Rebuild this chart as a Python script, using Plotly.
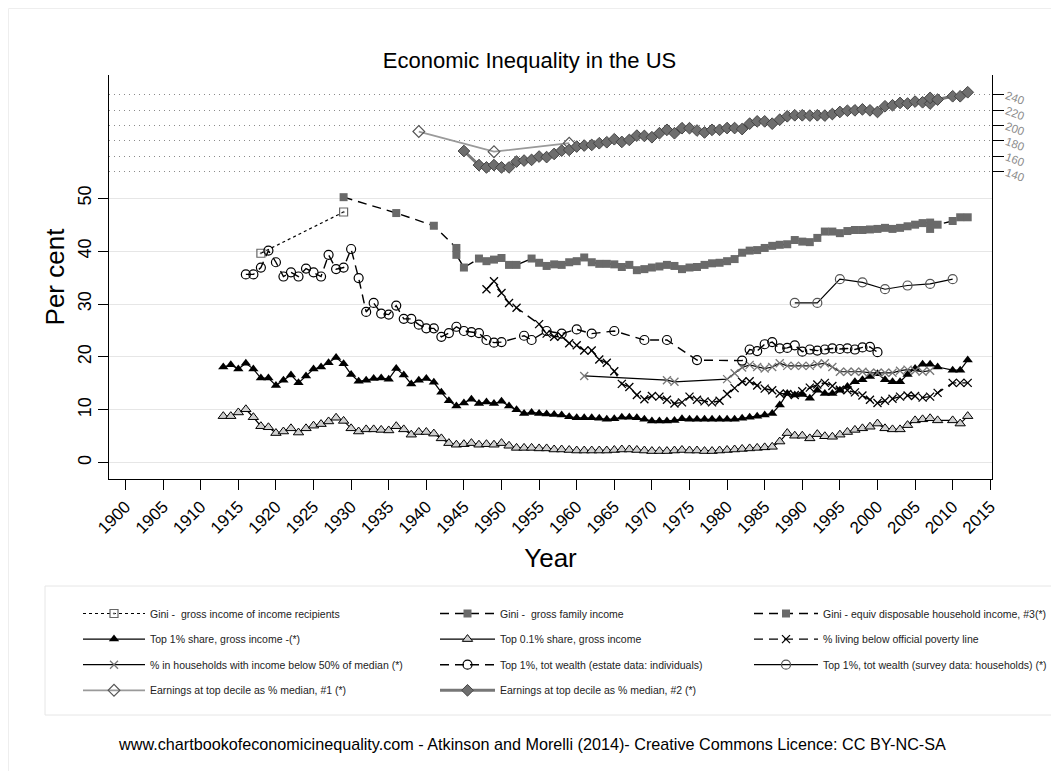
import plotly.graph_objects as go

# ---------------- data ----------------
yr_gini_recip = [1918, 1929]
gini_recip = [39.6, 47.4]

yr_gini_family = [1929, 1936, 1941, 1944, 1944, 1945, 1947, 1948, 1949, 1950, 1951, 1952,
                  1954, 1955, 1956, 1957, 1958, 1959, 1960, 1961, 1962, 1963, 1964, 1965,
                  1966, 1967, 1968, 1969, 1970, 1971, 1972, 1973, 1974, 1975, 1976, 1977,
                  1978, 1979, 1980, 1981, 1982, 1983, 1984, 1985, 1986, 1987, 1988, 1989,
                  1990, 1991, 1992, 1993, 1994, 1995, 1996, 1997, 1998, 1999, 2000, 2001,
                  2002, 2003, 2004, 2005, 2006, 2007]
gini_family = [50.2, 47.2, 44.8, 40.6, 39.3, 36.9, 38.6, 38.1, 38.4, 38.7, 37.4, 37.4,
               38.6, 37.8, 37.2, 37.5, 37.4, 37.9, 38.1, 38.8, 37.9, 37.6, 37.6, 37.5,
               37.0, 37.4, 36.4, 36.6, 36.9, 37.1, 37.4, 37.2, 36.6, 36.9, 37.0, 37.4,
               37.7, 37.8, 38.1, 38.5, 39.7, 40.1, 40.2, 40.6, 41.0, 41.2, 41.3, 42.1,
               41.8, 41.7, 42.5, 43.7, 43.7, 43.4, 43.8, 44.0, 44.0, 44.1, 44.2, 44.4,
               44.2, 44.4, 44.7, 45.0, 45.3, 45.4]

yr_gini_equiv = [2007, 2008, 2010, 2011, 2012]
gini_equiv = [44.2, 45.0, 45.7, 46.4, 46.4]

yr_top1 = list(range(1913, 2009)) + [2010, 2011, 2012]
top1 = [18.1, 18.5, 17.7, 18.8, 17.7, 16.0, 16.0, 14.6, 15.6, 16.6, 15.1, 16.4, 17.7,
        18.1, 18.9, 19.9, 18.7, 16.7, 15.4, 15.6, 15.9, 16.0, 15.8, 17.8, 16.6, 14.9,
        15.6, 15.9, 15.2, 13.3, 11.7, 10.7, 11.3, 12.0, 11.2, 11.5, 11.2, 11.6, 10.7,
        10.0, 9.3, 9.5, 9.3, 9.2, 9.1, 9.0, 8.7, 8.5, 8.5, 8.5, 8.4, 8.2, 8.3, 8.6,
        8.6, 8.5, 8.2, 7.9, 7.9, 7.9, 8.0, 8.3, 8.2, 8.2, 8.2, 8.2, 8.2, 8.2, 8.2,
        8.4, 8.6, 8.8, 9.0, 9.3, 10.9, 13.1, 12.8, 12.9, 12.2, 13.7, 13.1, 13.1, 13.7,
        14.4, 15.3, 15.7, 16.3, 16.8, 15.7, 15.3, 15.3, 16.7, 17.8, 18.6, 18.6, 18.1,
        17.5, 17.5, 19.4]

yr_top01 = list(range(1913, 2009)) + [2010, 2011, 2012]
top01 = [8.8, 8.8, 9.5, 10.1, 8.6, 6.9, 6.7, 5.6, 5.9, 6.5, 5.7, 6.5, 7.0, 7.3, 7.8,
         8.5, 7.9, 6.5, 5.9, 6.3, 6.3, 6.2, 6.1, 6.9, 6.3, 5.3, 5.8, 5.8, 5.5, 4.6,
         3.7, 3.4, 3.5, 3.7, 3.4, 3.5, 3.4, 3.7, 3.2, 2.8, 2.8, 2.8, 2.7, 2.7, 2.5,
         2.5, 2.4, 2.3, 2.3, 2.3, 2.3, 2.3, 2.4, 2.5, 2.5, 2.4, 2.3, 2.2, 2.2, 2.2,
         2.3, 2.4, 2.3, 2.3, 2.2, 2.2, 2.3, 2.4, 2.5, 2.6, 2.7, 2.8, 2.9, 3.0, 4.0,
         5.6, 5.1, 5.1, 4.6, 5.4, 5.0, 4.9, 5.3, 5.8, 6.2, 6.5, 6.8, 7.4, 6.5, 6.3,
         6.3, 7.1, 8.0, 8.2, 8.4, 8.0, 8.0, 7.4, 8.8]

yr_poverty = [1948, 1949, 1950, 1951, 1952, 1955, 1956, 1957, 1958, 1959, 1960, 1961,
              1962, 1963, 1964, 1965, 1966, 1967, 1968, 1969, 1970, 1971, 1972, 1973,
              1974, 1975, 1976, 1977, 1978, 1979, 1980, 1981, 1982, 1983, 1984, 1985,
              1986, 1987, 1988, 1989, 1990, 1991, 1992, 1993, 1994, 1995, 1996, 1997,
              1998, 1999, 2000, 2001, 2002, 2003, 2004, 2005, 2006, 2007, 2008, 2010,
              2011, 2012]
poverty = [32.8, 34.3, 32.1, 30.2, 29.3, 26.2, 24.4, 23.8, 23.9, 22.6, 22.2, 21.2,
           21.2, 19.5, 18.9, 17.3, 14.9, 14.3, 12.8, 12.0, 12.6, 12.5, 11.9, 11.2,
           11.4, 12.5, 11.9, 11.6, 11.4, 11.7, 13.0, 14.1, 15.3, 15.4, 14.6, 14.0,
           13.7, 13.1, 13.0, 12.8, 13.5, 14.2, 14.8, 15.1, 14.5, 13.8, 13.7, 13.3,
           12.7, 11.9, 11.3, 11.7, 12.1, 12.5, 12.7, 12.6, 12.3, 12.5, 13.2, 15.1,
           15.1, 15.1]

yr_below50 = [1961, 1972, 1973, 1980, 1981, 1982, 1983, 1984, 1985, 1986, 1987, 1988,
              1989, 1990, 1991, 1992, 1993, 1994, 1995, 1996, 1997, 1998, 1999, 2000,
              2001, 2002, 2003, 2004, 2005, 2006, 2007]
below50 = [16.4, 15.6, 15.3, 15.8, 16.9, 18.0, 18.5, 18.1, 17.8, 18.1, 18.8, 18.3,
           18.3, 18.3, 18.3, 18.6, 18.8, 18.1, 17.2, 17.2, 17.2, 17.2, 17.0, 17.0,
           17.0, 17.0, 17.4, 17.6, 17.4, 17.2, 17.4]

yr_wealth_estate = [1916, 1917, 1918, 1919, 1920, 1921, 1922, 1923, 1924, 1925, 1926,
                    1927, 1928, 1929, 1930, 1931, 1932, 1933, 1934, 1935, 1936, 1937,
                    1938, 1939, 1940, 1941, 1942, 1943, 1944, 1945, 1946, 1947, 1948,
                    1949, 1950, 1953, 1954, 1956, 1958, 1960, 1962, 1965, 1969, 1972,
                    1976, 1982, 1983, 1984, 1985, 1986, 1987, 1988, 1989, 1990, 1991,
                    1992, 1993, 1994, 1995, 1996, 1997, 1998, 1999, 2000]
wealth_estate = [35.6, 35.6, 36.9, 40.1, 37.9, 35.2, 36.0, 35.2, 36.7, 36.0, 35.2,
                 39.3, 36.6, 36.9, 40.4, 34.9, 28.5, 30.2, 28.2, 28.0, 29.7, 27.2,
                 27.2, 26.1, 25.4, 25.4, 23.8, 24.5, 25.7, 24.9, 24.7, 24.5, 23.2,
                 22.7, 22.8, 24.0, 23.2, 24.9, 24.4, 25.2, 24.4, 24.9, 23.2, 23.2,
                 19.4, 19.3, 21.4, 21.1, 22.4, 22.8, 21.6, 21.7, 22.2, 21.0, 21.4,
                 21.2, 21.4, 21.6, 21.5, 21.6, 21.4, 21.8, 21.9, 20.9]

yr_wealth_survey = [1989, 1992, 1995, 1998, 2001, 2004, 2007, 2010]
wealth_survey = [30.2, 30.2, 34.7, 34.1, 32.8, 33.5, 33.8, 34.7]

yr_earn1 = [1939, 1949, 1959]
earn1 = [192.2, 166.0, 177.0]

yr_earn2 = [1945] + list(range(1947, 2008)) + [2007, 2008, 2010, 2011, 2012]
earn2 = [166.9, 148.6, 145.6, 148.6, 145.6, 145.6, 153.2, 154.5, 155.4, 159.7, 159.0,
         163.1, 167.4, 168.3, 172.7, 174.0, 174.8, 177.0, 178.3, 182.2, 178.7, 181.3,
         186.9, 186.5, 184.8, 190.0, 194.4, 190.0, 196.5, 196.5, 193.5, 191.0, 194.4,
         194.4, 196.7, 196.7, 195.4, 202.4, 205.4, 205.4, 202.4, 207.6, 212.0, 213.3,
         213.3, 212.9, 213.3, 212.9, 214.9, 217.6, 219.2, 219.7, 221.0, 219.7, 217.6,
         225.0, 226.3, 229.3, 228.5, 231.1, 230.2, 228.5, 235.9, 233.7, 238.0, 238.0,
         243.2]

xticks = list(range(1900, 2016, 5))
yticks_left = [0, 10, 20, 30, 40, 50]
yticks_right = [140, 160, 180, 200, 220, 240]

title = "Economic Inequality in the US"
footer = ("www.chartbookofeconomicinequality.com - Atkinson and Morelli (2014)- "
          "Creative Commons Licence: CC BY-NC-SA")

# ---------------- figure ----------------
FONT = "Arial, Liberation Sans, sans-serif"
DASH = "9px,6px"
fig = go.Figure()


def add(x, y, name, legend, line, marker, yaxis="y"):
    fig.add_trace(go.Scatter(x=x, y=y, name=name, mode="lines+markers",
                             line=line, marker=marker, legend=legend,
                             legendgroup=name, yaxis=yaxis))


add(yr_gini_recip, gini_recip, "Gini -  gross income of income recipients", "legend",
    dict(color="black", width=1.2, dash="dot"),
    dict(symbol="square-open-dot", size=8, color="#666", line=dict(width=1.2)))
add(yr_top1, top1, "Top 1% share, gross income -(*)", "legend",
    dict(color="black", width=1.2),
    dict(symbol="triangle-up", size=9, color="black"))
add(yr_below50, below50, "% in households with income below 50% of median (*)", "legend",
    dict(color="black", width=1.2),
    dict(symbol="x-thin-open", size=8, color="#777", line=dict(width=1.3, color="#777")))
add(yr_earn1, earn1, "Earnings at top decile as % median, #1 (*)", "legend",
    dict(color="#9a9a9a", width=1.8),
    dict(symbol="diamond-open", size=9, color="#555", line=dict(width=1.2)), "y2")

add(yr_gini_family, gini_family, "Gini -  gross family income", "legend2",
    dict(color="black", width=1.4, dash=DASH),
    dict(symbol="square", size=8, color="#6a6a6a"))
add(yr_top01, top01, "Top 0.1% share, gross income", "legend2",
    dict(color="black", width=1.2),
    dict(symbol="triangle-up", size=9, color="#d0d0d0", line=dict(color="black", width=1)))
add(yr_wealth_estate, wealth_estate, "Top 1%, tot wealth (estate data: individuals)", "legend2",
    dict(color="black", width=1.4, dash=DASH),
    dict(symbol="circle-open", size=9, color="black", line=dict(width=1.2)))
add(yr_earn2, earn2, "Earnings at top decile as % median, #2 (*)", "legend2",
    dict(color="#777", width=3),
    dict(symbol="diamond", size=9, color="#6e6e6e", line=dict(color="#444", width=1)), "y2")

add(yr_gini_equiv, gini_equiv, "Gini - equiv disposable household income, #3(*)", "legend3",
    dict(color="black", width=1.4, dash=DASH),
    dict(symbol="square", size=8, color="#6a6a6a"))
add(yr_poverty, poverty, "% living below official poverty line", "legend3",
    dict(color="black", width=1.4, dash=DASH),
    dict(symbol="x-thin-open", size=8, color="black", line=dict(width=1.3, color="black")))
add(yr_wealth_survey, wealth_survey, "Top 1%, tot wealth (survey data: households) (*)", "legend3",
    dict(color="black", width=1.2),
    dict(symbol="circle-open", size=9, color="#555", line=dict(width=1.2)))

# pixel geometry of the figure (the page adds an 8 px body margin)
L, R, T, B = 101, 984, 67, 471
W, H = 1059, 771
PW, PH = R - L, B - T


def px_x(p):
    return (p - L) / PW


def px_y(p):
    return (B - p) / PH


legend_common = dict(font=dict(family=FONT, size=10.5, color="#222"), bgcolor="rgba(0,0,0,0)",
                     borderwidth=0, orientation="v", xanchor="left", yanchor="top",
                     traceorder="grouped", tracegroupgap=6.6)
leg_top = px_y(591)

fig.update_layout(
    width=W, height=H,
    margin=dict(l=L, r=W - R, t=T, b=H - B, autoexpand=False),
    paper_bgcolor="white", plot_bgcolor="white",
    font=dict(family=FONT, color="black"),
    title=dict(text=title, x=px_x(521.5), xanchor="center", xref="paper",
               y=1 - 52 / H, yanchor="middle",
               font=dict(size=22, color="black", family=FONT)),
    legend=dict(x=px_x(70), y=leg_top, itemwidth=62, **legend_common),
    legend2=dict(x=px_x(427), y=leg_top, itemwidth=55, **legend_common),
    legend3=dict(x=px_x(741), y=leg_top, itemwidth=64, **legend_common),
    xaxis=dict(range=[1897.8, 2015.23], tickmode="array", tickvals=xticks,
               ticktext=[str(v) for v in xticks], tickangle=-45,
               tickfont=dict(size=17), ticks="outside", ticklen=10, tickcolor="black",
               showline=True, linecolor="black", linewidth=1.2, showgrid=False,
               zeroline=False,
               title=dict(text="Year", font=dict(size=26), standoff=12)),
    yaxis=dict(range=[-3.08, 73.3], tickmode="array", tickvals=yticks_left,
               tickangle=-90, tickfont=dict(size=18), ticks="outside", ticklen=10,
               tickcolor="black", showline=True, linecolor="black", linewidth=1.2,
               showgrid=True, gridcolor="#e6e6e6", gridwidth=1, zeroline=False,
               title=dict(text="Per cent", font=dict(size=26), standoff=2)),
    yaxis2=dict(range=[-259, 265.6], overlaying="y", side="right", tickmode="array",
                tickvals=yticks_right, tickangle=20,
                tickfont=dict(size=11.5, color="#8c8c8c"), ticks="outside", ticklen=11,
                tickcolor="black", showline=True, linecolor="black", linewidth=1.2,
                showgrid=True, gridcolor="#8a8a8a", gridwidth=1, griddash="1px,4px",
                zeroline=False),
)

# legend frame and outer graph frame
fig.add_shape(type="rect", xref="paper", yref="paper", x0=px_x(37), x1=px_x(1044),
              y0=px_y(707), y1=px_y(578), line=dict(color="#e6e6e6", width=1), layer="below")
fig.add_shape(type="rect", xref="paper", yref="paper", x0=px_x(0.5), x1=px_x(W - 0.5),
              y0=px_y(H - 0.5), y1=px_y(0.5), line=dict(color="#eeeeee", width=1), layer="below")

fig.add_annotation(text=footer, xref="paper", yref="paper", x=px_x(524), y=px_y(736),
                   showarrow=False, xanchor="center", yanchor="middle",
                   font=dict(size=16.2, color="black", family=FONT))

fig.write_html("out.html")
